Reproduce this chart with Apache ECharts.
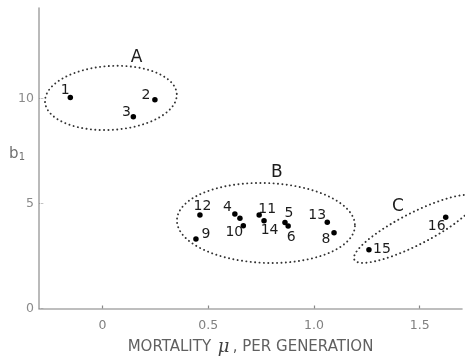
<!DOCTYPE html>
<html>
<head>
<meta charset="utf-8">
<script src="https://cdn.jsdelivr.net/npm/echarts@6/dist/echarts.min.js"></script>
<style>
  html, body { margin: 0; padding: 0; background: #fff; }
  #chart { width: 465px; height: 357px; }
</style>
</head>
<body>
<div id="chart"></div>
<script>
// Strain numbers and their measured values
const strainIds = [1, 2, 3, 4, 5, 6, 7, 8, 9, 10, 11, 12, 13, 14, 15, 16];
const mortality = [-0.152, 0.248, 0.146, 0.626, 0.863, 0.878, 0.650, 1.095, 0.442, 0.666, 0.741, 0.461, 1.063, 0.764, 1.260, 1.623];
const b1Values = [10.04, 9.93, 9.13, 4.50, 4.09, 3.93, 4.30, 3.61, 3.31, 3.94, 4.45, 4.45, 4.10, 4.18, 2.79, 4.34];

// Axis ticks
const xTicks = [0, 0.5, 1.0, 1.5];
const xTickLabels = ['0', '0.5', '1.0', '1.5'];
const yTicks = [0, 5, 10];
const yTickLabels = ['0', '5', '10'];

// Groupings (outlined clusters), in data units
const groupNames = ['A', 'B', 'C'];
const groupCenterX = [0.040, 0.773, 1.478];
const groupCenterY = [10.02, 4.07, 3.79];
const groupHalfX = [0.312, 0.421, 0.322];
const groupHalfY = [1.52, 1.90, 0.76];
const groupTiltDeg = [3.5, -2, 27];
const groupLetterX = [0.161, 0.825, 1.397];
const groupLetterY = [11.95, 6.45, 4.83];

// Label placement for each strain number (pixel nudges from the dot)
const labelNudge = {
  1: [-5, -7], 2: [-9, -4], 3: [-7, -4], 4: [-7.5, -6.5], 5: [4, -9], 6: [3, 11.5],
  8: [-8, 7], 9: [10, -5], 10: [-9, 7], 11: [8, -6], 12: [2.5, -9], 13: [-10, -7],
  14: [5.5, 10], 15: [13, -1], 16: [-9, 9]
};

const INK = '#1c1c1c';
const FONT = '"DejaVu Sans", sans-serif';

const pointData = strainIds.map((id, i) => {
  const nudge = labelNudge[id];
  return {
    value: [mortality[i], b1Values[i]],
    name: String(id),
    label: nudge ? { show: true, offset: nudge } : { show: false }
  };
});

const groupData = groupNames.map((n, i) => [
  groupCenterX[i], groupCenterY[i], groupHalfX[i], groupHalfY[i], groupTiltDeg[i],
  groupLetterX[i], groupLetterY[i]
]);

function renderGroup(params, api) {
  const c = api.coord([api.value(0), api.value(1)]);
  const rx = api.size([api.value(2), 0])[0];
  const ry = api.size([0, api.value(3)])[1];
  const tilt = api.value(4) * Math.PI / 180;
  const pts = [];
  const n = 160;
  for (let k = 0; k < n; k++) {
    const t = (k / n) * Math.PI * 2;
    const ex = rx * Math.cos(t), ey = ry * Math.sin(t);
    pts.push([
      c[0] + ex * Math.cos(tilt) + ey * Math.sin(tilt),
      c[1] - ex * Math.sin(tilt) + ey * Math.cos(tilt)
    ]);
  }
  const lp = api.coord([api.value(5), api.value(6)]);
  return {
    type: 'group',
    children: [
      {
        type: 'polygon',
        shape: { points: pts },
        style: {
          fill: null, stroke: '#333', lineWidth: 1.9,
          lineDash: [0.1, 4.3], lineCap: 'round'
        }
      },
      {
        type: 'text',
        style: {
          text: groupNames[params.dataIndex], x: lp[0], y: lp[1],
          align: 'center', verticalAlign: 'middle',
          fontFamily: FONT, fontSize: 17, fill: INK
        }
      }
    ]
  };
}

const chart = echarts.init(document.getElementById('chart'), null, { renderer: 'canvas' });
chart.setOption({
  animation: false,
  backgroundColor: '#fff',
  grid: { left: 39, right: 3, top: 8, bottom: 48.5, containLabel: false, outerBoundsMode: 'none' },
  xAxis: {
    type: 'value', min: -0.3, max: 1.7,
    splitLine: { show: false },
    axisLine: { show: true, onZero: false, lineStyle: { color: '#a9a9a9', width: 1.6 } },
    axisTick: { show: true, inside: true, length: 3, customValues: xTicks, lineStyle: { color: '#888', width: 1.2 } },
    axisLabel: {
      customValues: xTicks, margin: 11, color: '#808080', fontFamily: FONT, fontSize: 12.5,
      formatter: v => xTickLabels[xTicks.indexOf(Math.round(v * 10) / 10)] ?? ''
    },
    name: '{t|MORTALITY}  {mu|μ} {t|, PER GENERATION}',
    nameLocation: 'middle', nameGap: 30, nameMoveOverlap: false,
    nameTextStyle: {
      rich: {
        t: { color: '#606060', fontFamily: FONT, fontSize: 15 },
        mu: { color: '#404040', fontFamily: '"DejaVu Serif", serif', fontStyle: 'italic', fontSize: 18 }
      }
    }
  },
  yAxis: {
    type: 'value', min: 0, max: 14.3,
    splitLine: { show: false },
    axisLine: { show: true, onZero: false, lineStyle: { color: '#a9a9a9', width: 1.6 } },
    axisTick: { show: true, inside: true, length: 5, customValues: yTicks, lineStyle: { color: '#999', width: 1.2, type: 'dotted' } },
    axisLabel: {
      customValues: yTicks, margin: 5, color: '#8a8a8a', fontFamily: FONT, fontSize: 12.5,
      formatter: v => yTickLabels[yTicks.indexOf(Math.round(v))] ?? ''
    },
    name: '{b|b}{s|1}',
    nameLocation: 'middle', nameRotate: 0, nameGap: 14, nameMoveOverlap: false,
    nameTextStyle: {
      padding: [0, 0, 8, 0],
      rich: {
        b: { color: '#707070', fontFamily: FONT, fontSize: 15 },
        s: { color: '#707070', fontFamily: FONT, fontSize: 10, verticalAlign: 'bottom', padding: [6, 0, 0, 0] }
      }
    }
  },
  series: [
    {
      type: 'custom',
      renderItem: renderGroup,
      data: groupData,
      silent: true,
      clip: false,
      z: 1
    },
    {
      type: 'scatter',
      data: pointData,
      symbol: 'circle',
      symbolSize: 5.5,
      itemStyle: { color: '#000', opacity: 1 },
      label: {
        position: 'inside', formatter: '{b}',
        color: INK, fontFamily: FONT, fontSize: 14,
        align: 'center', verticalAlign: 'middle'
      },
      z: 3
    }
  ]
});
</script>
</body>
</html>
